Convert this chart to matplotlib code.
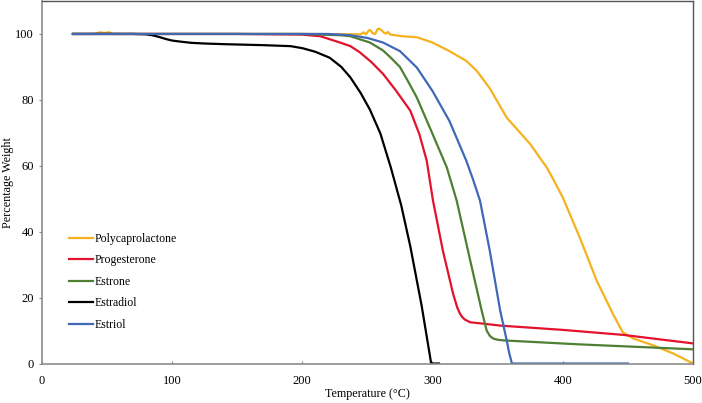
import matplotlib
matplotlib.use("Agg")
import matplotlib.pyplot as plt

plt.rcParams['font.family'] = ['Liberation Serif', 'DejaVu Serif']

# Data (temperature in °C, percentage weight)
pcl_t = [24, 40, 45, 48, 52, 55, 200, 245, 247, 248, 249, 251, 252, 253, 254, 256, 258, 259, 260, 262, 263,
         264, 266, 267, 268, 277, 288, 300, 313, 326, 334, 344, 357, 375, 387.7, 392.6, 400, 413, 426,
         438.6, 446, 454, 469.5, 485, 498, 500]
pcl_w = [100, 100, 100.5, 100.3, 100.5, 100, 100, 99.9, 100.5, 100.2, 99.9, 101.0, 101.2, 100.8, 100.2, 100.0,
         101.5, 101.6, 101.4, 100.7, 100.3, 100.1, 100.6, 100.0, 99.8, 99.3, 99.0, 97.4, 94.8, 91.8, 88.8,
         83.5, 74.6, 66.6, 59.5, 56.0, 50.4, 38.3, 25.2, 15.0, 9.5, 7.6, 5.5, 3.0, 0.4, 0.0]

prog_t = [24, 150, 200, 214, 229, 237, 244, 253, 262, 272, 283, 290, 295.6, 300.4, 308, 315.8, 319, 321,
          323, 325, 329, 336.5, 352, 400, 446, 500]
prog_w = [100, 100, 99.8, 99.3, 97.4, 96.3, 94.5, 91.5, 87.9, 82.8, 76.7, 69.5, 61.5, 49.4, 34.2, 21.2,
          17.0, 15.2, 14.0, 13.3, 12.5, 12.2, 11.5, 10.2, 8.7, 6.1]

estrone_t = [24, 200, 230, 237, 252, 262, 268, 275, 281, 288, 300, 311, 318.6, 329, 337.8, 341.6, 344,
             346.5, 350, 355, 364.7, 413, 460, 500]
estrone_w = [100, 100, 99.6, 99.3, 97.4, 95.0, 92.8, 90.0, 85.8, 80.7, 69.7, 59.5, 49.4, 31.2, 16.0, 10.0,
             8.4, 7.6, 7.2, 7.0, 6.8, 5.8, 5.0, 4.3]

estradiol_t = [24, 70, 80, 85, 90, 95, 100, 108, 115, 125, 140, 170, 191, 200, 210, 221, 230, 237, 245,
               252, 260, 268, 276, 283, 291.7, 299, 305]
estradiol_w = [100, 100, 99.9, 99.6, 99.1, 98.5, 98.0, 97.6, 97.3, 97.1, 96.9, 96.6, 96.3, 95.7, 94.6,
               92.8, 90.0, 86.8, 82.0, 77.0, 69.8, 59.5, 48.0, 35.5, 17.5, 0.0, 0.0]

estriol_t = [24, 220, 237, 250, 262, 275, 288, 300, 313, 326, 331, 336.5, 344, 352, 357, 359, 361, 450]
estriol_w = [100, 100, 99.6, 98.8, 97.4, 94.8, 89.8, 82.7, 73.6, 61.5, 56.0, 49.4, 34.2, 16.0, 7.0, 3.0,
             0.0, 0.0]

series_names = ['Polycaprolactone', 'Progesterone', 'Estrone', 'Estradiol', 'Estriol']
series_colors = ['#F5B21E', '#E3122D', '#4F7F33', '#000000', '#4068B8']
series_t = [pcl_t, prog_t, estrone_t, estradiol_t, estriol_t]
series_w = [pcl_w, prog_w, estrone_w, estradiol_w, estriol_w]

x_ticks = [0, 100, 200, 300, 400, 500]
y_ticks = [0, 20, 40, 60, 80, 100]

fig = plt.figure(figsize=(7.02, 4.03), dpi=100)
ax = fig.add_axes([41.7 / 702, 1 - 363.5 / 403, (693 - 41.7) / 702, 362.5 / 403])

for name, color, t, w in zip(series_names, series_colors, series_t, series_w):
    ax.plot(t, w, color=color, lw=1.6, label=name, solid_joinstyle='round')

ax.set_xlim(0, 500)
ax.set_ylim(0, 110)
ax.set_xticks(x_ticks)
ax.set_yticks(y_ticks)
ax.tick_params(axis='x', direction='in', length=2.5, width=0.8, color='#888888', labelsize=9, pad=8)
ax.tick_params(axis='y', direction='out', length=2.5, width=0.8, color='#888888', labelsize=9, pad=3)

for side in ['left', 'bottom']:
    ax.spines[side].set_color('#8c8c8c')
    ax.spines[side].set_linewidth(1.2)
for side in ['top', 'right']:
    ax.spines[side].set_color('#555555')
    ax.spines[side].set_linewidth(1.0)

ax.set_xlabel('Temperature (°C)', fontsize=8.7, labelpad=1)
ax.set_ylabel('Percentage Weight', fontsize=8.7, labelpad=1)

ax.legend(loc='upper left', bbox_to_anchor=(0.042, 0.36), frameon=False, fontsize=8.5,
          handlelength=2.0, handletextpad=0.2, labelspacing=0.8, borderpad=0, borderaxespad=0)

fig.savefig('out.png', dpi=100)
